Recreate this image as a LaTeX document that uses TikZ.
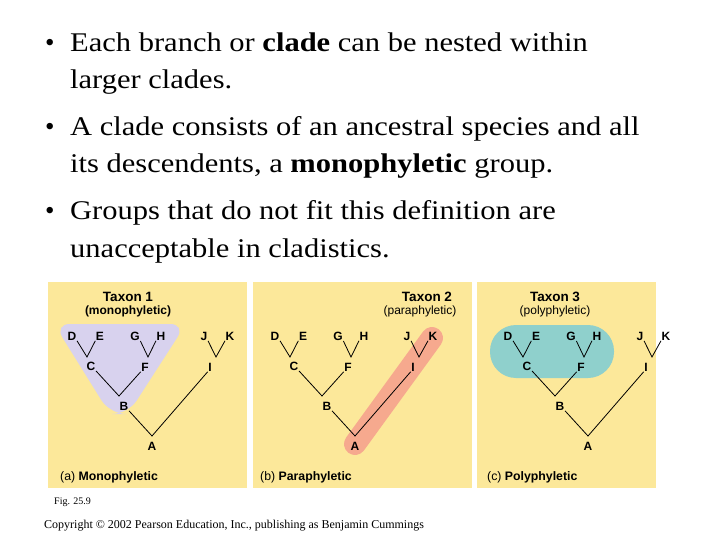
\documentclass[tikz,border=0pt]{standalone}
\usepackage{fontspec}
\setmainfont{Liberation Serif}
\newfontfamily\lsans{Liberation Sans}
\newcommand\wide[1]{\scalebox{1.13}[1]{#1}}
\begin{document}
\begin{tikzpicture}[x=1pt,y=-1pt,
  lbl/.style={font=\lsans\bfseries\fontsize{12}{13}\selectfont,inner sep=0.5pt},
  br/.style={line width=0.8pt,black},
  bul/.style={anchor=base west,font=\fontsize{27}{30}\selectfont,inner sep=0},
  captext/.style={anchor=west,inner sep=0,font=\lsans\fontsize{12.3}{13}\selectfont}]
\useasboundingbox (0,0) rectangle (720,540);
\fill[white] (0,0) rectangle (720,540);
% bullets
\node[bul] (b1) at (45,52) {\textbullet};
\node[bul] (t1) at (70,52) {\wide{Each branch or \textbf{clade} can be nested within}};
\node[bul] (t1b) at (70,89) {\wide{larger clades.}};
\node[bul] (b2) at (45,136) {\textbullet};
\node[bul] (t2) at (70,136) {\wide{A clade consists of an ancestral species and all}};
\node[bul] (t2b) at (70,173) {\wide{its descendents, a \textbf{monophyletic} group.}};
\node[bul] (b3) at (45,220) {\textbullet};
\node[bul] (t3) at (70,220) {\wide{Groups that do not fit this definition are}};
\node[bul] (t3b) at (70,257) {\wide{unacceptable in cladistics.}};
% panels
\definecolor{pan}{HTML}{FCE89A}
\fill[pan] (48,282) rectangle (247,488);
\fill[pan] (253,282) rectangle (472,488);
\fill[pan] (477,282) rectangle (656,488);
% shading
\definecolor{lav}{HTML}{D8D2EE}
\definecolor{sal}{HTML}{F6A98E}
\definecolor{tea}{HTML}{8FD0CC}
\fill[lav, rounded corners=16] (54,324) -- (186,324) -- (128,414) -- (110,414) -- cycle;
\draw[sal, line width=22pt, line cap=round] (355,444) -- (432,338);
\fill[tea, rounded corners=26] (490,325) rectangle (614,378);
% titles
\node[lbl,font=\lsans\bfseries\fontsize{13.5}{14}\selectfont] (h1) at (128,297) {Taxon 1};
\node[lbl] (s1) at (128,311) {(monophyletic)};
\node[lbl,font=\lsans\bfseries\fontsize{13.5}{14}\selectfont] (h2) at (427,297) {Taxon 2};
\node[lbl,font=\lsans\fontsize{12}{13}\selectfont] (s2) at (420,311) {(paraphyletic)};
\node[lbl,font=\lsans\bfseries\fontsize{13.5}{14}\selectfont] (h3) at (555,297) {Taxon 3};
\node[lbl,font=\lsans\fontsize{12}{13}\selectfont] (s3) at (555,311) {(polyphyletic)};
% trees
\foreach \p/\o in {a/0,b/203,c/436}{
\begin{scope}[xshift=\o]
\node[lbl] (\p D) at (72,336) {D};
\node[lbl] (\p E) at (100,336) {E};
\node[lbl] (\p G) at (135,336) {G};
\node[lbl] (\p H) at (161,336) {H};
\node[lbl] (\p J) at (204,336) {J};
\node[lbl] (\p K) at (230,336) {K};
\node[lbl] (\p C) at (91,366) {C};
\node[lbl] (\p F) at (145,367) {F};
\node[lbl] (\p I) at (210,367) {I};
\node[lbl] (\p B) at (124,406) {B};
\node[lbl] (\p A) at (152,446) {A};
\coordinate (\p cj) at (87,357);
\coordinate (\p fj) at (148,357);
\coordinate (\p ij) at (216,357);
\coordinate (\p bj) at (119,396);
\coordinate (\p aj) at (152,436);
\draw[br] (\p D.south east) -- (\p cj) -- (\p E.south west);
\draw[br] (\p G.south east) -- (\p fj) -- (\p H.south west);
\draw[br] (\p J.south east) -- (\p ij) -- (\p K.south west);
\draw[br] (\p C.south east) -- (\p bj) -- (\p F.south west);
\draw[br] (\p B.south east) -- (\p aj) -- (\p I.south west);
\end{scope}}
% captions
\node[captext] (ca) at (60,477) {(a) \textbf{Monophyletic}};
\node[captext] (cb) at (260,477) {(b) \textbf{Paraphyletic}};
\node[captext] (cc) at (487,477) {(c) \textbf{Polyphyletic}};
\node[anchor=west,inner sep=0,font=\fontsize{10}{11}\selectfont] (fig) at (54,502) {Fig. 25.9};
\node[anchor=west,inner sep=0,font=\fontsize{12}{13}\selectfont] (cp) at (44,526) {Copyright \textcopyright{} 2002 Pearson Education, Inc., publishing as Benjamin Cummings};
\end{tikzpicture}
\end{document}
